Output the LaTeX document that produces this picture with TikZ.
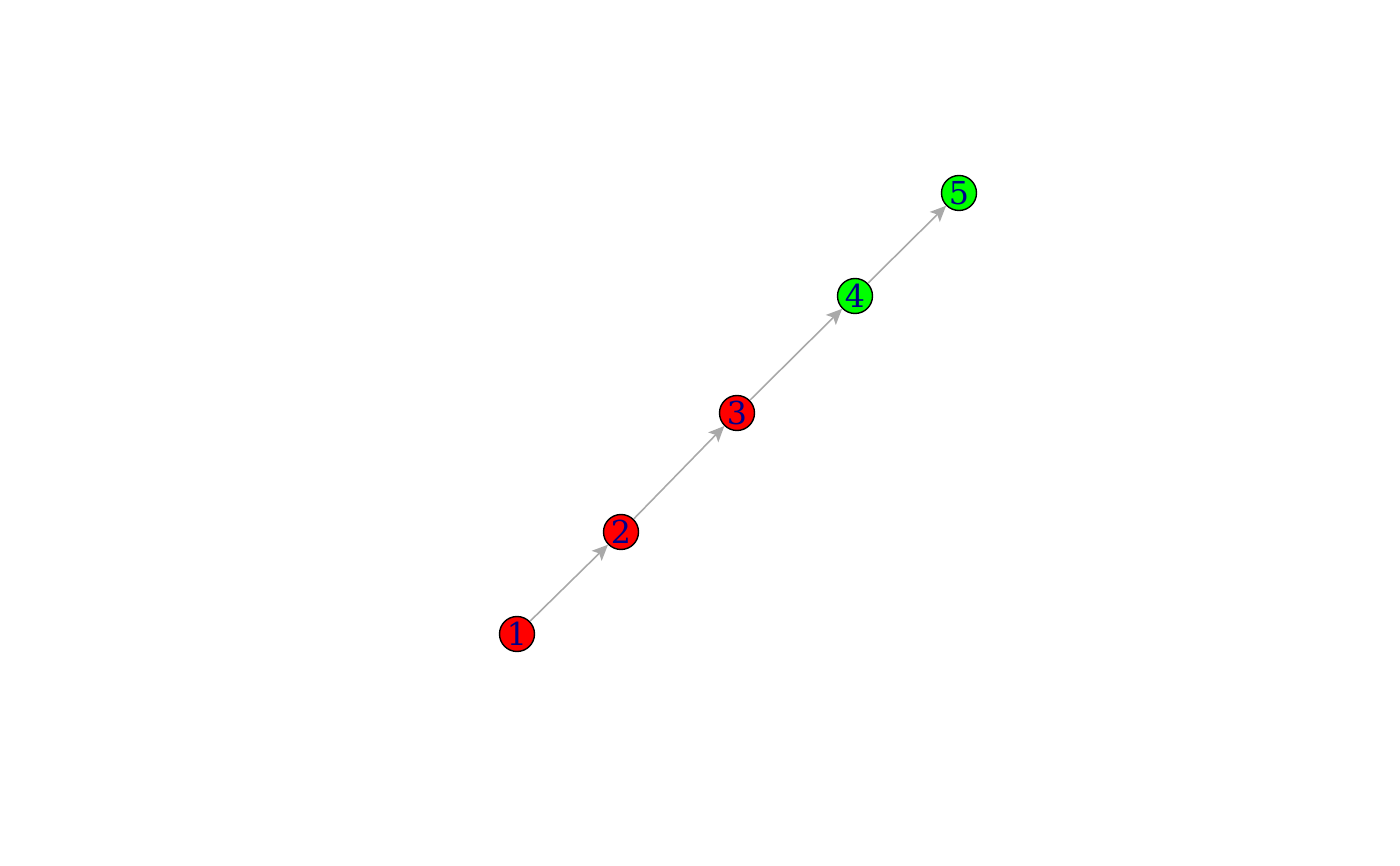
\documentclass[tikz,border=0pt]{standalone}
\usepackage{fontspec}
\setmainfont{DejaVu Serif}
\usepackage{xcolor}
\usetikzlibrary{arrows.meta}

\definecolor{edgegray}{HTML}{A9A9A9}
\definecolor{labelblue}{HTML}{00008B}

\begin{document}
\begin{tikzpicture}[
    vertex/.style={circle, draw=black, line width=0.8pt, minimum size=0.7cm, inner sep=0pt,
        text=labelblue, font=\fontsize{18}{18}\selectfont},
    redv/.style={vertex, fill=red},
    greenv/.style={vertex, fill=green},
    link/.style={draw=edgegray, line width=0.9pt,
        -{Stealth[length=9pt, width=8pt, inset=2pt]}}
  ]
    % Fix the page size
    \useasboundingbox (0,0) rectangle (28,17.32);

    % Draw the vertices
    \node[redv] (v1) at (10.34,4.64) {1};
    \node[redv] (v2) at (12.42,6.68) {2};
    \node[redv] (v3) at (14.74,9.06) {3};
    \node[greenv] (v4) at (17.10,11.40) {4};
    \node[greenv] (v5) at (19.18,13.46) {5};

    % Draw the edges
    \draw[link] (v1) -- (v2);
    \draw[link] (v2) -- (v3);
    \draw[link] (v3) -- (v4);
    \draw[link] (v4) -- (v5);
\end{tikzpicture}
\end{document}
